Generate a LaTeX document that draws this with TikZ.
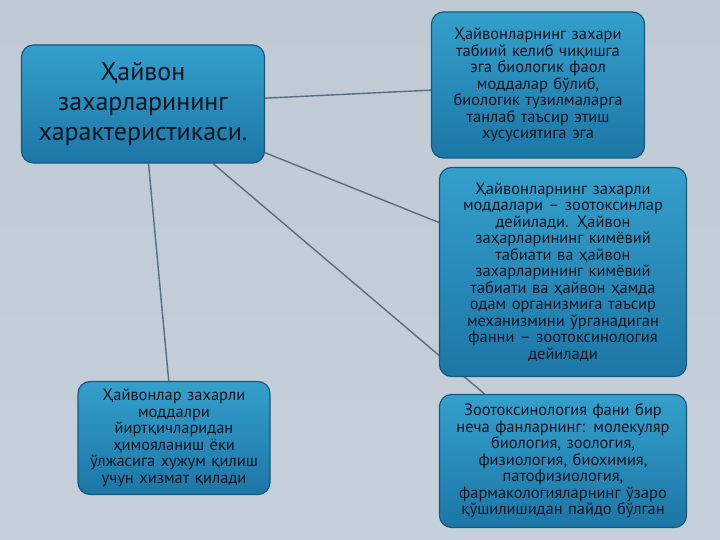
\documentclass[tikz,border=0pt]{standalone}
\usepackage{fontspec}
\setmainfont{PT Sans}
\usetikzlibrary{backgrounds}
\definecolor{cardtop}{RGB}{52,160,204}
\definecolor{cardbot}{RGB}{28,118,166}
\definecolor{cardline}{RGB}{22,88,125}
\definecolor{cardtext}{RGB}{8,20,32}
\definecolor{linkgray}{RGB}{88,110,125}
\definecolor{bgtop}{RGB}{192,202,213}
\definecolor{bgmid}{RGB}{214,221,229}
\definecolor{bgbot}{RGB}{198,208,219}
\begin{document}
\begin{tikzpicture}[x=1bp, y=-1bp]
	\tikzstyle{card}=[draw=cardline, line width=1.2bp, rounded corners=12bp, top color=cardtop, bottom color=cardbot, text=cardtext, align=center, inner sep=0pt]
	\tikzstyle{small}=[font=\fontsize{16.5}{16.6}\selectfont]
	\tikzstyle{link}=[draw=linkgray, line width=1.4bp]

	\node [card, minimum width=243bp, minimum height=118bp, text width=236bp, font=\fontsize{26}{30}\selectfont] (title) at (143,104) {Ҳайвон\\захарларининг\\характеристикаси.};

	\node [card, small, minimum width=213bp, minimum height=146bp, text width=208bp] (origin) at (538,85) {Ҳайвонларнинг захари\\табиий келиб чиқишга\\эга биологик фаол\\моддалар бўлиб,\\биологик тузилмаларга\\танлаб таъсир этиш\\хусусиятига эга};
	\node [card, small, minimum width=247bp, minimum height=209bp, text width=240bp] (zootox) at (563,272) {Ҳайвонларнинг захарли\\моддалари – зоотоксинлар\\дейилади. Ҳайвон\\заҳарларининг кимёвий\\табиати ва ҳайвон\\захарларининг кимёвий\\табиати ва ҳайвон ҳамда\\одам организмига таъсир\\механизмини ўрганадиган\\фанни – зоотоксинология\\дейилади};
	\node [card, small, minimum width=192bp, minimum height=113bp, text width=188bp] (defence) at (174,438) {Ҳайвонлар захарли\\моддалри\\йиртқичларидан\\ҳимояланиш ёки\\ўлжасига хужум қилиш\\учун хизмат қилади};
	\node [card, small, minimum width=247bp, minimum height=133bp, text width=242bp] (science) at (563,461) {Зоотоксинология фани бир\\неча фанларнинг: молекуляр\\биология, зоология,\\физиология, биохимия,\\патофизиология,\\фармакологияларнинг ўзаро\\қўшилишидан пайдо бўлган};

	\begin{pgfonlayer}{background}
	\shade [top color=bgtop, middle color=bgmid, bottom color=bgbot] (0,0) rectangle (720,540);
	\draw [link] (title) -- (origin);
	\draw [link] (title) -- (zootox);
	\draw [link] (title) -- (science);
	\draw [link] (title) -- (defence);
	\end{pgfonlayer}
	\useasboundingbox (0,0) rectangle (720,540);
\end{tikzpicture}
\end{document}
